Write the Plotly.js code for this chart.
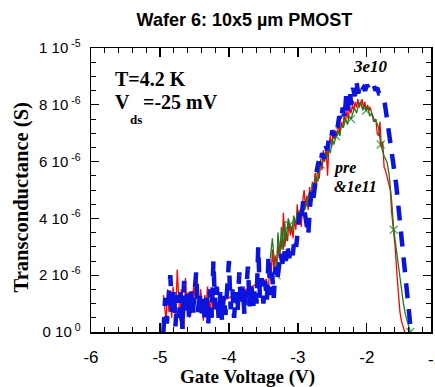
<!DOCTYPE html>
<html>
<head>
<meta charset="utf-8">
<script src="https://cdn.plot.ly/plotly-3.0.1.min.js"></script>
<style>html,body{margin:0;padding:0;background:#fff;}#chart{width:435px;height:387px;}</style>
</head>
<body>
<div id="chart"></div>
<script>
// ---- data (transconductance in units of 1e-6 S) ----
const blueX = [-4.950,-4.925,-4.900,-4.875,-4.850,-4.825,-4.800,-4.775,-4.750,-4.725,-4.700,-4.675,-4.650,-4.625,-4.600,-4.575,-4.550,-4.525,-4.500,-4.475,-4.450,-4.425,-4.400,-4.375,-4.350,-4.325,-4.300,-4.275,-4.250,-4.225,-4.200,-4.175,-4.150,-4.125,-4.100,-4.075,-4.050,-4.025,-4.000,-3.975,-3.950,-3.925,-3.900,-3.875,-3.850,-3.825,-3.800,-3.775,-3.750,-3.725,-3.700,-3.675,-3.650,-3.625,-3.600,-3.575,-3.550,-3.525,-3.500,-3.475,-3.450,-3.425,-3.400,-3.375,-3.350,-3.325,-3.300,-3.275,-3.250,-3.225,-3.200,-3.175,-3.150,-3.125,-3.100,-3.075,-3.050,-3.025,-3.000,-2.975,-2.950,-2.925,-2.900,-2.875,-2.850,-2.825,-2.800,-2.775,-2.750,-2.725,-2.700,-2.675,-2.650,-2.625,-2.600,-2.575,-2.550,-2.525,-2.500,-2.475,-2.450,-2.425,-2.400,-2.375,-2.350,-2.325,-2.300,-2.275,-2.250,-2.225,-2.200,-2.175,-2.150,-2.125,-2.100,-2.075,-2.050,-2.025,-2.000,-1.975,-1.950,-1.925,-1.900,-1.875,-1.850,-1.825,-1.800,-1.775,-1.750,-1.725,-1.700,-1.675,-1.650,-1.625,-1.600,-1.575,-1.550,-1.525,-1.500,-1.475,-1.450,-1.425,-1.400,-1.375,-1.360];
const blueY = [0.0,1.2,0.3,1.4,2.0,0.6,1.5,0.2,1.3,0.5,1.4,0.1,1.8,0.6,1.4,0.4,1.5,0.6,1.3,2.1,0.7,1.4,0.5,1.3,0.4,1.4,0.3,1.5,0.5,2.5,0.8,1.6,0.5,1.4,0.4,1.3,0.6,1.6,2.5,0.8,1.5,0.5,1.4,0.7,2.1,0.9,1.6,0.6,1.7,2.3,0.9,1.7,0.8,1.6,1.0,3.0,1.2,1.9,1.0,1.8,1.1,2.7,1.3,2.1,1.2,2.3,1.8,2.2,2.8,2.4,2.9,2.5,3.0,2.6,3.0,2.7,3.3,3.0,3.5,4.2,3.9,4.6,4.2,3.8,3.4,4.4,5.0,4.7,5.4,5.7,6.0,5.8,6.3,6.1,6.6,6.4,6.8,6.7,7.1,6.9,7.3,7.2,7.6,7.4,7.9,7.5,8.3,7.8,8.5,8.0,8.6,8.3,8.8,8.4,8.7,8.5,8.6,8.5,8.7,8.6,8.7,8.6,8.7,8.5,8.6,8.4,8.4,8.3,8.2,7.8,7.4,7.0,6.6,6.2,5.7,5.2,4.6,4.0,3.4,2.8,2.1,1.5,1.0,0.4,0.0];

const redX = [-4.950,-4.930,-4.910,-4.890,-4.870,-4.850,-4.830,-4.810,-4.790,-4.770,-4.750,-4.730,-4.710,-4.690,-4.670,-4.650,-4.630,-4.610,-4.590,-4.570,-4.550,-4.530,-4.510,-4.490,-4.470,-4.450,-4.430,-4.410,-4.390,-4.370,-4.350,-4.330,-4.310,-4.290,-4.270,-4.250,-4.230,-4.210,-4.190,-4.170,-3.460,-3.430,-3.410,-3.390,-3.370,-3.350,-3.330,-3.310,-3.290,-3.270,-3.250,-3.230,-3.210,-3.190,-3.170,-3.150,-3.130,-3.110,-3.090,-3.070,-3.050,-3.030,-3.010,-2.990,-2.970,-2.950,-2.930,-2.910,-2.890,-2.870,-2.850,-2.830,-2.810,-2.790,-2.770,-2.750,-2.730,-2.710,-2.690,-2.670,-2.650,-2.630,-2.610,-2.590,-2.570,-2.550,-2.530,-2.510,-2.490,-2.470,-2.450,-2.430,-2.410,-2.390,-2.370,-2.350,-2.330,-2.310,-2.290,-2.270,-2.250,-2.230,-2.210,-2.190,-2.170,-2.150,-2.130,-2.110,-2.090,-2.070,-2.050,-2.030,-2.010,-1.990,-1.970,-1.950,-1.930,-1.910,-1.890,-1.870,-1.850,-1.830,-1.810,-1.790,-1.770,-1.750,-1.730,-1.710,-1.690,-1.660,-1.640,-1.610,-1.590,-1.560,-1.540,-1.520,-1.500,-1.480,-1.450];
const redY = [1.3,0.9,0.4,1.5,0.7,1.2,0.5,1.6,1.0,0.6,2.2,1.1,0.4,1.5,0.8,0.1,1.9,1.0,1.4,0.5,1.3,0.9,1.7,1.1,2.1,1.2,0.7,1.5,1.0,0.4,1.3,0.9,1.6,1.1,0.7,1.4,0.6,1.2,0.9,1.0,1.85,1.3,2.4,1.8,2.9,2.3,2.7,2.2,3.1,2.6,3.3,2.9,4.2,3.0,3.5,3.2,3.9,3.4,3.7,3.3,4.0,3.6,4.5,3.8,4.3,3.7,4.6,5.0,4.4,4.8,4.3,5.1,4.7,5.3,5.0,5.6,5.2,5.9,5.4,6.1,5.7,6.4,6.0,6.5,5.5,6.6,6.9,6.5,7.0,6.8,7.1,6.9,7.3,7.0,7.4,7.2,7.6,7.4,7.8,7.5,7.9,7.7,8.0,7.8,8.1,7.9,8.2,7.9,8.1,8.2,7.9,8.1,7.8,8.0,7.8,7.9,7.7,7.6,7.4,7.5,7.0,6.9,7.4,6.5,6.7,5.8,5.7,5.5,5.4,5.0,4.2,3.5,3.0,1.9,1.2,0.7,0.4,0.2,0.0];

const greenX = [-3.40,-3.37,-3.34,-3.31,-3.29,-3.26,-3.24,-3.21,-3.19,-3.17,-3.14,-3.12,-3.09,-3.06,-3.03,-3.00,-2.97,-2.94,-2.90,-2.86,-2.84,-2.82,-2.79,-2.76,-2.74,-2.71,-2.69,-2.67,-2.64,-2.61,-2.58,-2.56,-2.53,-2.50,-2.48,-2.45,-2.42,-2.39,-2.37,-2.34,-2.31,-2.28,-2.26,-2.23,-2.20,-2.18,-2.15,-2.12,-2.09,-2.06,-2.04,-2.01,-1.98,-1.96,-1.93,-1.90,-1.88,-1.85,-1.83,-1.80,-1.78,-1.75,-1.73,-1.71,-1.68,-1.66,-1.64,-1.61,-1.58,-1.56,-1.53,-1.50,-1.47,-1.44,-1.40,-1.37];
const greenY = [2.6,3.3,2.4,2.0,3.5,2.7,3.7,2.9,3.9,3.2,4.0,3.77,3.5,4.1,3.8,4.3,4.0,4.6,4.3,4.6,4.9,4.6,5.2,5.0,5.5,5.3,5.7,5.9,6.0,6.3,6.1,6.5,6.3,6.8,6.6,6.9,7.1,6.9,7.3,7.2,7.5,7.3,7.6,7.5,7.8,7.9,7.7,8.0,8.1,7.8,8.0,7.8,7.9,7.6,7.7,7.4,7.5,7.3,7.2,6.6,6.4,6.2,6.1,6.0,5.6,5.2,4.6,3.6,3.0,2.7,2.0,1.5,1.0,0.6,0.2,0.0];
const greenMarkerIdx = [3,11,19,27,35,43,51,59,67,75];

const xTickVals = [-6,-5,-4,-3,-2];
const xTickText = ['-6','-5','-4','-3','-2'];
const yTickVals = [0,2,4,6,8,10];
const yTickText = ['0 10<sup> 0</sup>','2 10<sup> -6</sup>','4 10<sup> -6</sup>','6 10<sup> -6</sup>','8 10<sup> -6</sup>','1 10<sup> -5</sup>'];

const X_RANGE = [-6, -1.07];
const SANS = 'Liberation Sans, Arial, sans-serif';
const SERIF = 'Liberation Serif, Times New Roman, serif';

const traces = [
  {x: redX, y: redY, type:'scatter', mode:'lines', line:{color:'#ff0000', width:1.3}, name:'pre'},
  {x: greenX, y: greenY, type:'scatter', mode:'lines+markers', line:{color:'#1e7a1e', width:1.3},
   marker:{symbol:'x-thin-open', color:'#1e7a1e', line:{color:'#1e7a1e', width:1.3},
           size: greenX.map((_, i) => greenMarkerIdx.includes(i) ? 8 : 0)}, name:'1e11'},
  {x: blueX, y: blueY, type:'scatter', mode:'lines', line:{color:'#0a14dc', width:4.5, dash:'15px,11px'}, name:'3e10'}
];

const layout = {
  width:435, height:387,
  margin:{l:91, r:4, t:48, b:55},
  paper_bgcolor:'#fff', plot_bgcolor:'#fff',
  showlegend:false,
  title:{text:'<b>Wafer 6: 10x5 µm PMOST</b>', font:{family:SANS, size:18, color:'#000'},
         xref:'container', x:0.562, xanchor:'center', yref:'container', y:0.948, yanchor:'middle'},
  xaxis:{range:X_RANGE, tickmode:'array', tickvals:xTickVals, ticktext:xTickText,
         ticks:'inside', ticklen:9, tickwidth:1.2, tickcolor:'#000',
         minor:{tickmode:'linear', tick0:-6, dtick:0.2, ticks:'inside', ticklen:5, tickwidth:1, tickcolor:'#000'},
         mirror:'allticks', showline:true, linewidth:1.5, linecolor:'#000',
         showgrid:false, zeroline:false, ticklabelstandoff:9,
         tickfont:{family:SANS, size:17, color:'#000'}},
  yaxis:{range:[0,10], tickmode:'array', tickvals:yTickVals, ticktext:yTickText,
         ticks:'inside', ticklen:8, tickwidth:1.2, tickcolor:'#000',
         minor:{tickmode:'linear', tick0:0, dtick:0.5, ticks:'inside', ticklen:5, tickwidth:1, tickcolor:'#000'},
         mirror:'allticks', showline:true, linewidth:1.5, linecolor:'#000',
         showgrid:false, zeroline:false, ticklabelstandoff:6,
         tickfont:{family:SANS, size:15, color:'#000'}},
  annotations:[
    {xref:'paper', yref:'paper', x:(247.5-91)/340, y:(332-377)/284, xanchor:'center', yanchor:'middle',
     text:'<b>Gate Voltage (V)</b>', showarrow:false, font:{family:SERIF, size:19, color:'#000'}},
    {xref:'paper', yref:'paper', x:(21-91)/340, y:(332-197.5)/284, xanchor:'center', yanchor:'middle', textangle:-90,
     text:'<b>Transconductance (S)</b>', showarrow:false, font:{family:SERIF, size:20.5, color:'#000'}},
    {xref:'paper', yref:'paper', x:(-1 - X_RANGE[0])/(X_RANGE[1]-X_RANGE[0]), y:0, yshift:-16, xanchor:'center', yanchor:'top',
     text:'-1', showarrow:false, font:{family:SANS, size:17, color:'#000'}},
    {xref:'paper', yref:'paper', x:(113-91)/340, y:(332-79)/284, xanchor:'left', yanchor:'middle',
     text:'<b>T=4.2 K</b>', showarrow:false, font:{family:SERIF, size:20, color:'#000'}},
    {xref:'paper', yref:'paper', x:(113-91)/340, y:(332-102)/284, xanchor:'left', yanchor:'middle',
     text:'<b>V</b>', showarrow:false, font:{family:SERIF, size:20, color:'#000'}},
    {xref:'paper', yref:'paper', x:(128-91)/340, y:(332-119)/284, xanchor:'left', yanchor:'middle',
     text:'<b>ds</b>', showarrow:false, font:{family:SERIF, size:13, color:'#000'}},
    {xref:'paper', yref:'paper', x:(141-91)/340, y:(332-102)/284, xanchor:'left', yanchor:'middle',
     text:'<b>=-25 mV</b>', showarrow:false, font:{family:SERIF, size:20, color:'#000'}},
    {xref:'paper', yref:'paper', x:(351-91)/340, y:(332-66)/284, xanchor:'left', yanchor:'middle',
     text:'<b><i>3e10</i></b>', showarrow:false, font:{family:SERIF, size:17, color:'#000'}},
    {xref:'paper', yref:'paper', x:(331-91)/340, y:(332-168)/284, xanchor:'left', yanchor:'middle',
     text:'<b><i>pre</i></b>', showarrow:false, font:{family:SERIF, size:16, color:'#000'}},
    {xref:'paper', yref:'paper', x:(332-91)/340, y:(332-186)/284, xanchor:'left', yanchor:'middle',
     text:'<b><i>&1e11</i></b>', showarrow:false, font:{family:SERIF, size:16, color:'#000'}}
  ]
};

Plotly.newPlot('chart', traces, layout, {displayModeBar:false, staticPlot:true});
</script>
</body>
</html>
